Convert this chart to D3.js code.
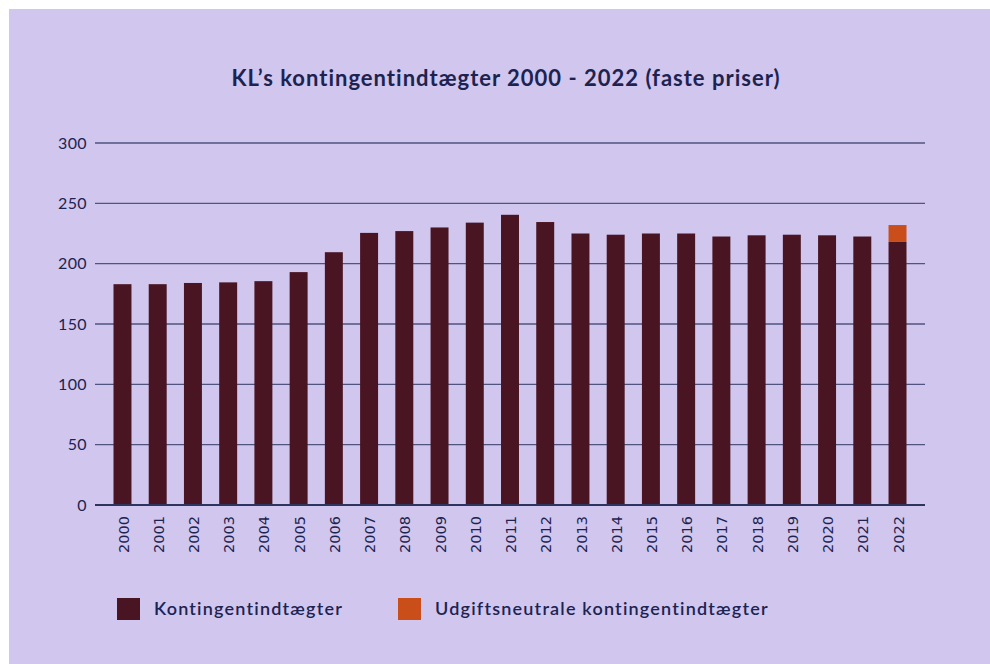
<!DOCTYPE html>
<html>
<head>
<meta charset="utf-8">
<script src="https://cdn.jsdelivr.net/npm/d3@7"></script>
<style>
  html, body { margin: 0; padding: 0; background: #fff; }
  svg { display: block; }
</style>
</head>
<body>
<div id="chart"></div>
<script>
const years = d3.range(2000, 2023).map(String);
const kontingent = [183, 183, 184, 184.5, 185.5, 193, 209.5, 225.5, 227, 230, 234, 240.5,
  234.5, 225, 224, 225, 225, 222.5, 223.5, 224, 223.5, 222.5, 218];
const udgiftsneutral = [0, 0, 0, 0, 0, 0, 0, 0, 0, 0, 0, 0,
  0, 0, 0, 0, 0, 0, 0, 0, 0, 0, 14];
const yTicks = [0, 50, 100, 150, 200, 250, 300];
const seriesNames = ["Kontingentindtægter", "Udgiftsneutrale kontingentindtægter"];
const seriesColors = ["#4a1522", "#c94e1a"];

const width = 990;
const height = 664;
const navy = "#1d2350";

const marginLeft = 95;
const marginRight = 65;
const marginTop = 143;
const plotBottom = 505;

const svg = d3.select("#chart").append("svg")
  .attr("width", width)
  .attr("height", height)
  .attr("viewBox", [0, 0, width, height]);

svg.append("rect")
  .attr("x", 9).attr("y", 9)
  .attr("width", width - 9).attr("height", height - 9)
  .attr("fill", "#d0c6ee");

const x = d3.scaleBand()
  .domain(years)
  .range([marginLeft, width - marginRight])
  .paddingInner(0.49)
  .paddingOuter(0.525);

const y = d3.scaleLinear()
  .domain([0, 300])
  .range([plotBottom, marginTop]);

// grid + y labels
const yAxisG = svg.append("g");
yAxisG.selectAll("line")
  .data(yTicks)
  .join("line")
  .attr("x1", marginLeft)
  .attr("x2", width - marginRight)
  .attr("y1", (d) => y(d))
  .attr("y2", (d) => y(d))
  .attr("stroke", "#50557f")
  .attr("stroke-width", (d) => (d === 0 ? 2 : 1.4));

yAxisG.selectAll("text")
  .data(yTicks)
  .join("text")
  .attr("x", 87)
  .attr("y", (d) => y(d))
  .attr("dy", "0.35em")
  .attr("text-anchor", "end")
  .attr("fill", navy)
  .attr("font-family", "Lato, sans-serif")
  .attr("font-size", 16)
  .attr("letter-spacing", 0.4)
  .text((d) => d);

// stacked bars
const rows = years.map((yr, i) => ({ year: yr, a: kontingent[i], b: udgiftsneutral[i] }));
const stack = d3.stack().keys(["a", "b"])(rows);

svg.append("g")
  .selectAll("g")
  .data(stack)
  .join("g")
  .attr("fill", (_, i) => seriesColors[i])
  .selectAll("rect")
  .data((d) => d.filter((s) => s[1] > s[0]))
  .join("rect")
  .attr("x", (d) => x(d.data.year))
  .attr("width", x.bandwidth())
  .attr("y", (d) => y(d[1]))
  .attr("height", (d) => y(d[0]) - y(d[1]));

// redraw baseline on top
svg.append("line")
  .attr("x1", marginLeft).attr("x2", width - marginRight)
  .attr("y1", y(0)).attr("y2", y(0))
  .attr("stroke", "#2e3460").attr("stroke-width", 2);

// x labels
svg.append("g")
  .selectAll("text")
  .data(years)
  .join("text")
  .attr("transform", (d) => `translate(${x(d) + x.bandwidth() / 2 + 1},516) rotate(-90)`)
  .attr("text-anchor", "end")
  .attr("dy", "0.35em")
  .attr("fill", navy)
  .attr("font-family", "DejaVu Sans, sans-serif")
  .attr("font-size", 14.5)
  .text((d) => d);

// title
svg.append("text")
  .attr("x", 506)
  .attr("y", 86)
  .attr("text-anchor", "middle")
  .attr("fill", navy)
  .attr("font-family", "Lato, sans-serif")
  .attr("font-weight", "bold")
  .attr("font-size", 22)
  .attr("letter-spacing", 1)
  .text("KL’s kontingentindtægter 2000 - 2022 (faste priser)");

// legend
const legendX = [117, 398];
const legend = svg.append("g")
  .selectAll("g")
  .data(seriesNames)
  .join("g")
  .attr("transform", (_, i) => `translate(${legendX[i]},598)`);

legend.append("rect")
  .attr("width", 23)
  .attr("height", 22)
  .attr("fill", (_, i) => seriesColors[i]);

legend.append("text")
  .attr("x", 37)
  .attr("y", 17)
  .attr("fill", navy)
  .attr("font-family", "Lato, sans-serif")
  .attr("font-weight", "600")
  .attr("font-size", 18)
  .attr("letter-spacing", 1.2)
  .text((d) => d);
</script>
</body>
</html>
